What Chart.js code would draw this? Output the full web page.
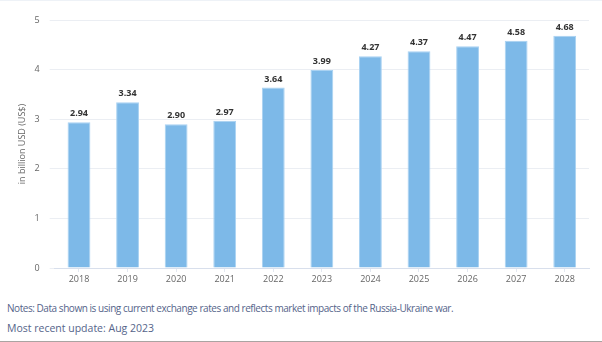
<!DOCTYPE html>
<html>
<head>
<meta charset="utf-8">
<script src="https://cdn.jsdelivr.net/npm/chart.js@4.4.0/dist/chart.umd.min.js"></script>
<style>
  html, body { margin: 0; padding: 0; background: #fff; }
  #wrap {
    position: relative; width: 602px; height: 342px; box-sizing: border-box;
    border-top: 1px solid #eef2f7; border-bottom: 1px solid #aaa4a2;
    font-family: "Open Sans", sans-serif;
  }
  #box { position: absolute; left: 0; top: 0; width: 602px; height: 290px; }
  .note { position: absolute; left: 7px; font-size: 10.5px; color: #55648a; white-space: nowrap; }
  .note.tight { font-size: 10px; letter-spacing: -0.45px; }
</style>
</head>
<body>
<div id="wrap">
  <div id="box"><canvas id="bars"></canvas></div>
  <div class="note tight" style="top:300px">Notes: Data shown is using current exchange rates and reflects market impacts of the Russia-Ukraine war.</div>
  <div class="note" style="top:320px">Most recent update: Aug 2023</div>
</div>
<script>
const years = ["2018", "2019", "2020", "2021", "2022", "2023", "2024", "2025", "2026", "2027", "2028"];
const revenue = [2.94, 3.34, 2.90, 2.97, 3.64, 3.99, 4.27, 4.37, 4.47, 4.58, 4.68];
const yTicks = [0, 1, 2, 3, 4, 5];

// value labels above each bar
const valueLabels = {
  id: "valueLabels",
  afterDatasetsDraw(chart) {
    const ctx = chart.ctx;
    const meta = chart.getDatasetMeta(0);
    ctx.save();
    ctx.font = "bold 9px 'Open Sans', sans-serif";
    ctx.fillStyle = "#333";
    ctx.textAlign = "center";
    ctx.textBaseline = "bottom";
    meta.data.forEach((bar, i) => {
      ctx.fillText(revenue[i].toFixed(2), bar.x, bar.y - 4);
    });
    ctx.restore();
  }
};

new Chart(document.getElementById("bars"), {
  type: "bar",
  data: {
    labels: years,
    datasets: [{
      data: revenue,
      backgroundColor: "#7db9e8",
      borderColor: "#a9d2f2",
      borderWidth: { top: 1, left: 1, right: 1, bottom: 0 },
      barPercentage: 0.47,
      categoryPercentage: 1
    }]
  },
  options: {
    responsive: true,
    maintainAspectRatio: false,
    animation: false,
    layout: { padding: { top: 19, right: 13, left: 0, bottom: 0 } },
    plugins: { legend: { display: false }, tooltip: { enabled: false } },
    scales: {
      x: {
        grid: { drawOnChartArea: false, drawTicks: true, tickLength: 4, offset: false, color: "#e3e8f1" },
        border: { color: "#d8dfec", width: 1 },
        ticks: { color: "#666", font: { size: 9, family: "'Open Sans', sans-serif" }, padding: 2 },
        afterFit(scale) { scale.height = 23; }
      },
      y: {
        min: 0,
        max: 5,
        afterBuildTicks(scale) { scale.ticks = yTicks.map(v => ({ value: v })); },
        grid: { color: "#ebeef3", tickLength: 5, drawTicks: true },
        border: { display: false },
        ticks: { color: "#666", font: { size: 9, family: "'Open Sans', sans-serif" }, padding: 10 },
        title: {
          display: true,
          text: "in billion USD (US$)",
          color: "#666",
          font: { size: 9, family: "'Open Sans', sans-serif" },
          padding: { top: 17, bottom: 0 }
        },
        afterFit(scale) { scale.width = 54.7; }
      }
    }
  },
  plugins: [valueLabels]
});
</script>
</body>
</html>
